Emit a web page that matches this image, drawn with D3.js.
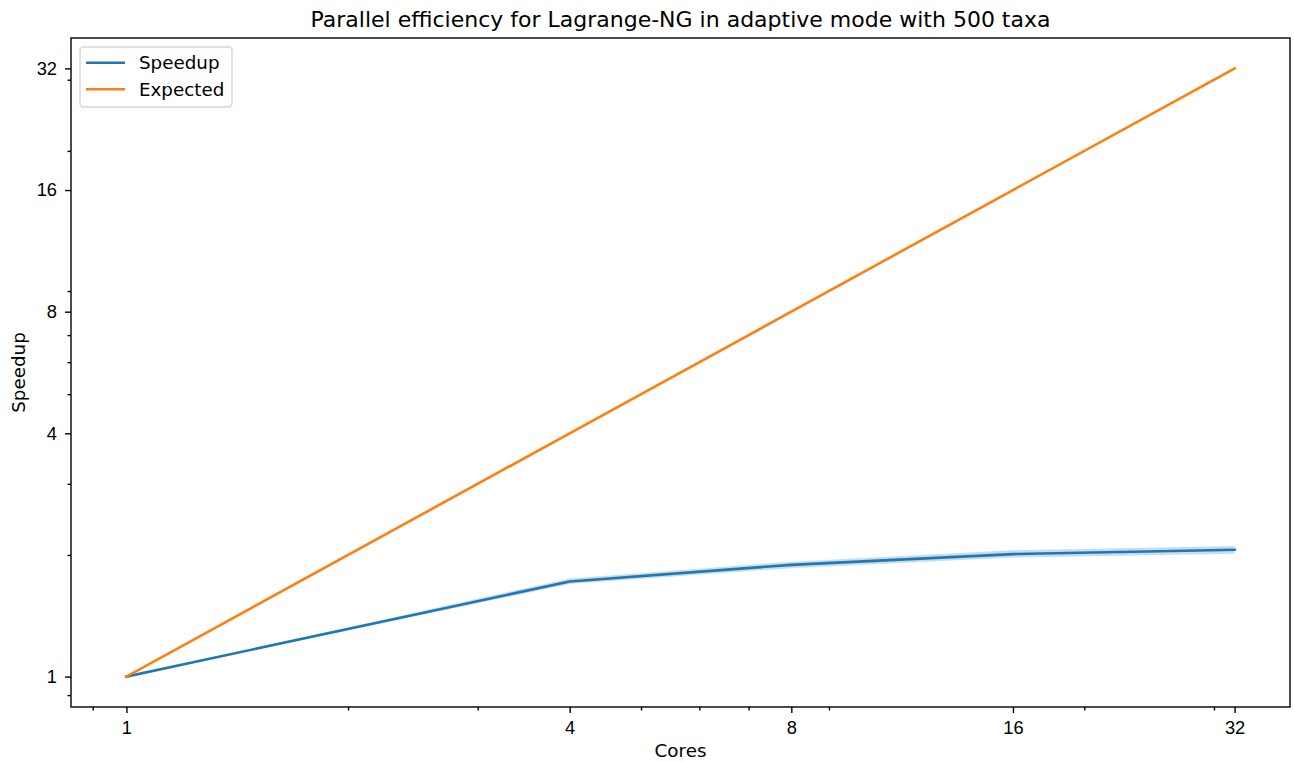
<!DOCTYPE html>
<html>
<head>
<meta charset="utf-8">
<script src="https://cdn.jsdelivr.net/npm/d3@7"></script>
<style>
    body { margin: 0; background: #fff; }
    svg { font-family: "DejaVu Sans", sans-serif; }
    .axis path, .axis line { stroke: #000; }
</style>
</head>
<body>
<div id="chart"></div>
<script>
// data
const cores = [1, 4, 8, 16, 32];
const speedup = [1, 1.72, 1.89, 2.01, 2.06];
const speedupLow = [1, 1.695, 1.855, 1.97, 2.015];
const speedupHigh = [1, 1.75, 1.925, 2.055, 2.105];
const expected = [1, 4, 8, 16, 32];

const xTickValues = [1, 4, 8, 16, 32];
const yTickValues = [1, 4, 8, 16, 32];
const minorTickValues = [0.9, 2, 3, 5, 6, 7, 9, 20, 30];

var Chart = {
    width: 1294,
    height: 762,
    margin: { top: 38, right: 4, bottom: 55, left: 71 },
    fontSize: '18.3px',

    init: function() {
        const m = this.margin;
        const svg = d3.select('#chart').append('svg')
            .attr('width', this.width)
            .attr('height', this.height);

        // log scales padded by a quarter octave each side, like matplotlib's margins
        const lo = Math.pow(2, -0.25), hi = Math.pow(2, 5.25);
        const x = d3.scaleLog().domain([lo, hi]).range([m.left, this.width - m.right]);
        const y = d3.scaleLog().domain([lo, hi]).range([this.height - m.bottom, m.top]);

        const clipId = 'plotClip';
        svg.append('clipPath').attr('id', clipId).append('rect')
            .attr('x', m.left).attr('y', m.top)
            .attr('width', this.width - m.right - m.left)
            .attr('height', this.height - m.bottom - m.top);

        const plot = svg.append('g').attr('clip-path', `url(#${clipId})`);

        const band = d3.area()
            .x((d, i) => x(cores[i]))
            .y0((d, i) => y(speedupLow[i]))
            .y1((d, i) => y(speedupHigh[i]));

        plot.append('path')
            .datum(cores)
            .attr('d', band)
            .attr('fill', '#1f77b4')
            .attr('fill-opacity', 0.25);

        const line = d3.line()
            .x(d => x(d[0]))
            .y(d => y(d[1]));

        plot.append('path')
            .datum(cores.map((c, i) => [c, speedup[i]]))
            .attr('d', line)
            .attr('fill', 'none')
            .attr('stroke', '#1f77b4')
            .attr('stroke-width', 2.6)
            .attr('stroke-linejoin', 'round')
            .attr('stroke-linecap', 'square');

        plot.append('path')
            .datum(cores.map((c, i) => [c, expected[i]]))
            .attr('d', line)
            .attr('fill', 'none')
            .attr('stroke', '#ff7f0e')
            .attr('stroke-width', 2.6)
            .attr('stroke-linecap', 'square');

        // axes
        const bottom = this.height - m.bottom;
        svg.append('g')
            .attr('class', 'axis')
            .attr('transform', `translate(0,${bottom})`)
            .call(d3.axisBottom(x).tickValues(minorTickValues).tickFormat('').tickSize(3.5).tickSizeOuter(0));

        svg.append('g')
            .attr('class', 'axis')
            .attr('transform', `translate(0,${bottom})`)
            .call(d3.axisBottom(x).tickValues(xTickValues).tickFormat(d3.format('d'))
                .tickSize(6).tickPadding(8).tickSizeOuter(0))
            .call(g => g.selectAll('text').attr('font-size', this.fontSize).attr('fill', '#000'));

        svg.append('g')
            .attr('class', 'axis')
            .attr('transform', `translate(${m.left},0)`)
            .call(d3.axisLeft(y).tickValues(minorTickValues).tickFormat('').tickSize(3.5).tickSizeOuter(0));

        svg.append('g')
            .attr('class', 'axis')
            .attr('transform', `translate(${m.left},0)`)
            .call(d3.axisLeft(y).tickValues(yTickValues).tickFormat(d3.format('d'))
                .tickSize(6).tickPadding(8).tickSizeOuter(0))
            .call(g => g.selectAll('text').attr('font-size', this.fontSize).attr('fill', '#000'));

        svg.selectAll('.axis line').attr('stroke-width', 1.4);
        svg.selectAll('.axis path.domain').remove();

        // frame
        svg.append('rect')
            .attr('x', m.left).attr('y', m.top)
            .attr('width', this.width - m.right - m.left)
            .attr('height', this.height - m.bottom - m.top)
            .attr('fill', 'none')
            .attr('stroke', '#000')
            .attr('stroke-width', 1.4);

        // labels
        svg.append('text')
            .attr('x', (m.left + this.width - m.right) / 2)
            .attr('y', 27)
            .attr('text-anchor', 'middle')
            .attr('font-size', '22px')
            .text('Parallel efficiency for Lagrange-NG in adaptive mode with 500 taxa');

        svg.append('text')
            .attr('x', (m.left + this.width - m.right) / 2)
            .attr('y', 757)
            .attr('text-anchor', 'middle')
            .attr('font-size', this.fontSize)
            .text('Cores');

        svg.append('text')
            .attr('transform', `translate(25,${(m.top + this.height - m.bottom) / 2}) rotate(-90)`)
            .attr('text-anchor', 'middle')
            .attr('font-size', this.fontSize)
            .text('Speedup');

        this.drawLegend(svg);
    },

    drawLegend: function(svg) {
        const items = [
            { label: 'Speedup', color: '#1f77b4' },
            { label: 'Expected', color: '#ff7f0e' }
        ];
        const g = svg.append('g').attr('transform', 'translate(80,47)');
        g.append('rect')
            .attr('width', 152).attr('height', 60)
            .attr('rx', 3.5)
            .attr('fill', '#fff').attr('fill-opacity', 0.8)
            .attr('stroke', '#d6d6d6').attr('stroke-width', 1.4);

        const row = g.selectAll('g.item').data(items).enter().append('g')
            .attr('class', 'item')
            .attr('transform', (d, i) => `translate(0,${15.7 + i * 26.6})`);
        row.append('line')
            .attr('x1', 6).attr('x2', 45)
            .attr('stroke', d => d.color).attr('stroke-width', 2.6);
        row.append('text')
            .attr('x', 59).attr('dy', '0.35em')
            .attr('font-size', this.fontSize)
            .text(d => d.label);
    }
};

Chart.init();
</script>
</body>
</html>
